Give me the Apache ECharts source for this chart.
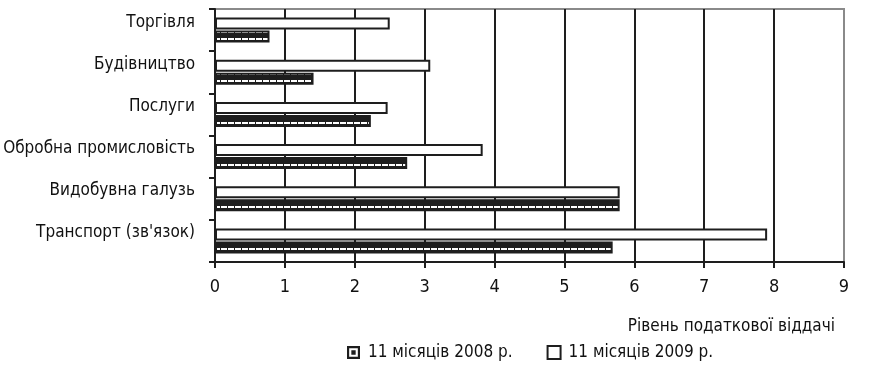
<!DOCTYPE html>
<html>
<head>
<meta charset="utf-8">
<script src="https://cdn.jsdelivr.net/npm/echarts@6/dist/echarts.min.js"></script>
<style>
  html, body { margin: 0; padding: 0; background: #fff; }
  #chart { width: 872px; height: 375px; }
</style>
</head>
<body>
<div id="chart"></div>
<script>
// Sectors, listed bottom-to-top as the category axis runs
const categories = [
  "Транспорт (зв'язок)",
  'Видобувна галузь',
  'Обробна промисловість',
  'Послуги',
  'Будівництво',
  'Торгівля'
];
// Tax return level per sector
const values2008 = [5.69, 5.79, 2.75, 2.23, 1.41, 0.78];
const values2009 = [7.90, 5.79, 3.83, 2.47, 3.08, 2.50];
const seriesNames = ['11 місяців 2008 р.', '11 місяців 2009 р.'];
const xTickValues = [0, 1, 2, 3, 4, 5, 6, 7, 8, 9];
const xAxisTitle = 'Рівень податкової віддачі';

const FONT = "'Liberation Sans Narrow', 'DejaVu Sans Condensed', 'Noto Sans', sans-serif";
const INK = '#1e1e1e';

// Dark hatch with a light comb stripe, used to fill the 2008 bars
function makeHatch() {
  const c = document.createElement('canvas');
  c.width = 7; c.height = 7;
  const g = c.getContext('2d');
  g.fillStyle = INK;
  g.fillRect(0, 0, 7, 7);
  g.fillStyle = '#fff';
  g.fillRect(0, 3, 7, 2);
  g.fillStyle = INK;
  g.fillRect(3, 3, 1, 2);
  return c;
}
const hatch = { image: makeHatch(), repeat: 'repeat' };

// Legend marker for the hatched series: framed square with a dark centre
const hatchIcon = 'path://M0 0H12V12H0Z M2 2V10H10V2Z M4 4H8V8H4Z';

const chart = echarts.init(document.getElementById('chart'), null, { renderer: 'canvas' });

// One split line per tick; the last one sits on the grey frame
const splitColors = xTickValues.map((v, i) => (i === xTickValues.length - 1 ? '#8a8a8a' : INK));

chart.setOption({
  animation: false,
  textStyle: { fontFamily: FONT, color: '#111' },
  title: {
    text: xAxisTitle,
    right: 32,
    top: 313,
    textStyle: { fontFamily: FONT, fontSize: 17, fontWeight: 'normal', color: '#111' }
  },
  legend: {
    left: 347,
    top: 344,
    padding: 0,
    itemWidth: 13,
    itemHeight: 13,
    itemGap: 34,
    data: [
      { name: seriesNames[0], icon: hatchIcon, itemStyle: { color: INK, borderWidth: 0 } },
      { name: seriesNames[1], icon: 'rect', itemStyle: { color: '#fff', borderColor: INK, borderWidth: 2 } }
    ],
    textStyle: { fontFamily: FONT, fontSize: 17, color: '#111', padding: [0, 0, 0, 3] }
  },
  grid: {
    left: 215,
    right: 28,
    top: 9,
    bottom: 113,
    show: true,
    borderColor: '#8a8a8a',
    borderWidth: 2,
    containLabel: false,
    outerBoundsMode: 'none'
  },
  xAxis: {
    type: 'value',
    min: 0,
    max: 9,
    interval: 1,
    axisLine: { show: true, lineStyle: { color: INK, width: 2 } },
    axisTick: { show: true, length: 6, lineStyle: { color: INK, width: 2 } },
    axisLabel: { fontFamily: FONT, fontSize: 18, color: '#111', margin: 16 },
    splitLine: { show: true, lineStyle: { color: splitColors, width: 2 } }
  },
  yAxis: {
    type: 'category',
    data: categories,
    axisLine: { show: true, lineStyle: { color: INK, width: 2 } },
    axisTick: { show: true, length: 6, lineStyle: { color: INK, width: 2 } },
    axisLabel: {
      fontFamily: FONT, fontSize: 17, color: '#111', margin: 20,
      verticalAlign: 'bottom', lineHeight: 16
    },
    splitLine: { show: false }
  },
  series: [
    {
      name: seriesNames[1],
      type: 'bar',
      data: values2009,
      barWidth: 12,
      barGap: '8%',
      itemStyle: { color: '#fff', borderColor: INK, borderWidth: 2 }
    },
    {
      name: seriesNames[0],
      type: 'bar',
      data: values2008,
      barWidth: 12,
      itemStyle: { color: hatch, borderColor: INK, borderWidth: 2 }
    }
  ]
});
</script>
</body>
</html>
